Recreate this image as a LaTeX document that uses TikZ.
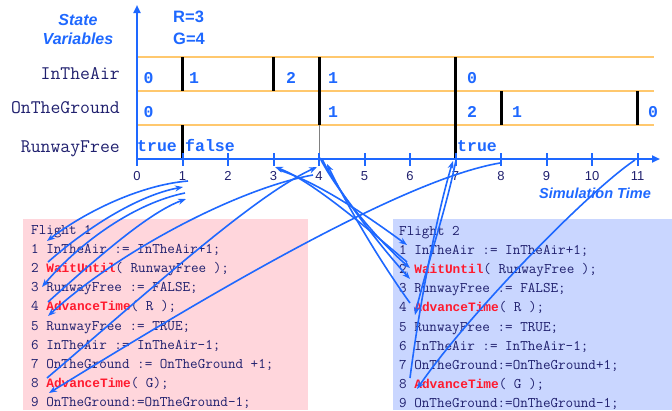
\documentclass[tikz,border=0pt]{standalone}
\usepackage{fontspec}
\setmainfont{Liberation Sans}
\newfontfamily\monof{Liberation Mono}
\usetikzlibrary{arrows.meta}
\definecolor{vblue}{RGB}{30,104,255}
\definecolor{navy}{RGB}{32,32,110}
\definecolor{kred}{RGB}{255,26,46}
\definecolor{orng}{RGB}{255,200,110}
\definecolor{pinkbg}{RGB}{255,214,220}
\definecolor{lavbg}{RGB}{201,214,255}
\newcommand{\kw}[1]{{\monof\bfseries\fontsize{12.8}{14}\selectfont\textcolor{kred}{#1}}}
\tikzset{
  codeline/.style={anchor=base west, inner sep=0pt, font=\ttfamily\fontsize{14.7}{16}\selectfont, text=navy},
  varlabel/.style={anchor=base east, inner sep=0pt, font=\ttfamily\fontsize{19.2}{20}\selectfont, text=navy},
  valtext/.style={anchor=base west, inner sep=0pt, font=\monof\bfseries\fontsize{16.5}{18}\selectfont, text=vblue},
  ticklab/.style={anchor=base, inner sep=0pt, font=\fontsize{13}{14}\selectfont, text=navy},
  titletext/.style={inner sep=0pt, font=\bfseries\itshape\fontsize{16}{18}\selectfont, text=vblue},
  paramtext/.style={anchor=base west, inner sep=0pt, font=\bfseries\fontsize{16.5}{18}\selectfont, text=vblue},
  rowline/.style={draw=orng, line width=1.6pt},
  bar/.style={draw=black, line width=3pt},
  axisline/.style={draw=vblue, line width=2.4pt, -{Triangle[length=8pt,width=7pt]}},
  tickmark/.style={draw=vblue, line width=2pt},
  flow/.style={draw=vblue, line width=1.6pt, -{Stealth[length=8pt,width=6pt]}}
}
\begin{document}
\begin{tikzpicture}[x=1pt,y=-1pt]
\useasboundingbox (0,0) rectangle (672,410);
% code boxes
\fill[pinkbg] (23,219) rectangle (308,410);
\fill[lavbg] (393,219) rectangle (672,410);
% state rows
\foreach \yy in {57,91,125} \draw[rowline] (137,\yy) -- (654,\yy);
% bars
\draw[bar] (182.5,57) -- (182.5,91);
\draw[bar] (182.5,125) -- (182.5,159);
\draw[bar] (273,57) -- (273,91);
\draw[bar] (319,57) -- (319,125);
\draw[draw=gray, line width=1pt] (319,125) -- (319,157);
\draw[bar] (455.5,57) -- (455.5,159);
\draw[bar] (501,91) -- (501,125);
\draw[bar] (637.5,91) -- (637.5,125);
% axes
\draw[axisline] (137,160) -- (137,5);
\draw[axisline] (136,159) -- (660,159);
\foreach \t in {0,...,11} {
  \draw[tickmark] ({137+45.5*\t},153) -- ({137+45.5*\t},166);
  \node[ticklab] (tl\t) at ({137+45.5*\t},180.5) {\t};
}
% titles
\node[titletext, anchor=base] (sv1) at (78,25) {State};
\node[titletext, anchor=base] (sv2) at (78,44) {Variables};
\node[paramtext] (pr) at (173,22) {R=3};
\node[paramtext] (pg) at (173,44) {G=4};
\node[titletext, anchor=base east, font=\bfseries\itshape\fontsize{14.5}{16}\selectfont] (simt) at (651,198) {Simulation Time};
% variable labels
\node[varlabel] (lair) at (120,79.5) {InTheAir};
\node[varlabel] (lgnd) at (120,113.5) {OnTheGround};
\node[varlabel] (lrwy) at (120,152) {RunwayFree};
% values
\node[valtext] (a0) at (143.5,83.5) {0};
\node[valtext] (a1) at (189,83.5) {1};
\node[valtext] (a2) at (286,83.5) {2};
\node[valtext] (a3) at (328,83.5) {1};
\node[valtext] (a4) at (467,83.5) {0};
\node[valtext] (g0) at (143.5,117.5) {0};
\node[valtext] (g1) at (328,117.5) {1};
\node[valtext] (g2) at (467,117.5) {2};
\node[valtext] (g3) at (512,117.5) {1};
\node[valtext] (g4) at (648,117.5) {0};
\node[valtext] (r0) at (137,151.5) {true};
\node[valtext] (r1) at (185,151.5) {false};
\node[valtext] (r2) at (457,151.5) {true};
% Flight 1 code
\node[codeline] (f1h) at (31,234) {Flight 1};
\node[codeline] (f1c1) at (31,253.2) {1 InTheAir := InTheAir+1;};
\node[codeline] (f1c2) at (31,272.4) {2 \kw{WaitUntil}( RunwayFree );};
\node[codeline] (f1c3) at (31,291.6) {3 RunwayFree := FALSE;};
\node[codeline] (f1c4) at (31,310.8) {4 \kw{AdvanceTime}( R );};
\node[codeline] (f1c5) at (31,330) {5 RunwayFree := TRUE;};
\node[codeline] (f1c6) at (31,349.2) {6 InTheAir := InTheAir-1;};
\node[codeline] (f1c7) at (31,368.4) {7 OnTheGround := OnTheGround +1;};
\node[codeline] (f1c8) at (31,387.6) {8 \kw{AdvanceTime}( G);};
\node[codeline] (f1c9) at (31,406.8) {9 OnTheGround:=OnTheGround-1;};
% Flight 2 code
\node[codeline] (f2h) at (399,235.5) {Flight 2};
\node[codeline] (f2c1) at (399,254.6) {1 InTheAir := InTheAir+1;};
\node[codeline] (f2c2) at (399,273.7) {2 \kw{WaitUntil}( RunwayFree );};
\node[codeline] (f2c3) at (399,292.8) {3 RunwayFree := FALSE;};
\node[codeline] (f2c4) at (399,311.9) {4 \kw{AdvanceTime}( R );};
\node[codeline] (f2c5) at (399,331) {5 RunwayFree := TRUE;};
\node[codeline] (f2c6) at (399,350.1) {6 InTheAir := InTheAir-1;};
\node[codeline] (f2c7) at (399,369.2) {7 OnTheGround:=OnTheGround+1;};
\node[codeline] (f2c8) at (399,388.3) {8 \kw{AdvanceTime}( G );};
\node[codeline] (f2c9) at (399,407.4) {9 OnTheGround:=OnTheGround-1;};
% connector end points
\coordinate (t1a) at (188,181);
\coordinate (t1b) at (183,187);
\coordinate (t1c) at (185,193);
\coordinate (t1d) at (186,199);
\coordinate (t3a) at (275,167);
\coordinate (t3b) at (279,170);
\coordinate (t4a) at (317,167);
\coordinate (t4b) at (313,175);
\coordinate (t4c) at (320,158);
\coordinate (t4d) at (322,159);
\coordinate (t4e) at (327,164);
\coordinate (t7a) at (456,160);
\coordinate (t7b) at (453,161);
\coordinate (t8) at (500,163);
\coordinate (t11) at (635,160);
\coordinate (p1l1) at (47,241);
\coordinate (p1l2) at (48,262);
\coordinate (p1l3) at (42,287);
\coordinate (p1l4) at (48,302);
\coordinate (p1l5) at (48,316);
\coordinate (p1l8) at (47,378);
\coordinate (p1l9) at (49,393);
\coordinate (p2l1) at (407,245);
\coordinate (p2l2t) at (407,262);
\coordinate (p2l2) at (410,268);
\coordinate (p2l3) at (410,279);
\coordinate (p2l4) at (410,303);
\coordinate (p2l5) at (415,315);
\coordinate (p2l8) at (410,378);
\coordinate (p2l9) at (417,389);
% Flight 1 flow
\draw[flow] (t1a) .. controls (140,185) and (85,212) .. (p1l1);
\draw[flow] (p1l2) .. controls (90,225) and (140,195) .. (t1b);
\draw[flow] (t1c) .. controls (135,203) and (80,242) .. (p1l3);
\draw[flow] (p1l4) .. controls (100,255) and (150,212) .. (t1d);
\draw[flow] (t4b) .. controls (240,188) and (120,250) .. (p1l5);
\draw[flow] (p1l8) .. controls (150,290) and (255,195) .. (t4a);
\draw[flow] (t8) .. controls (400,180) and (200,300) .. (p1l9);
% Flight 2 flow
\draw[flow] (t3b) .. controls (320,183) and (370,218) .. (p2l1);
\draw[flow] (p2l2t) .. controls (360,222) and (310,180) .. (t3a);
\draw[flow] (t4c) .. controls (335,188) and (375,238) .. (p2l2);
\draw[flow] (t4d) .. controls (340,195) and (382,248) .. (p2l3);
\draw[flow] (p2l4) .. controls (372,250) and (342,195) .. (t4e);
\draw[flow] (t7a) .. controls (446,210) and (426,268) .. (p2l5);
\draw[flow] (p2l8) .. controls (420,300) and (438,210) .. (t7b);
\draw[flow] (t11) .. controls (590,190) and (470,312) .. (p2l9);
\end{tikzpicture}
\end{document}
